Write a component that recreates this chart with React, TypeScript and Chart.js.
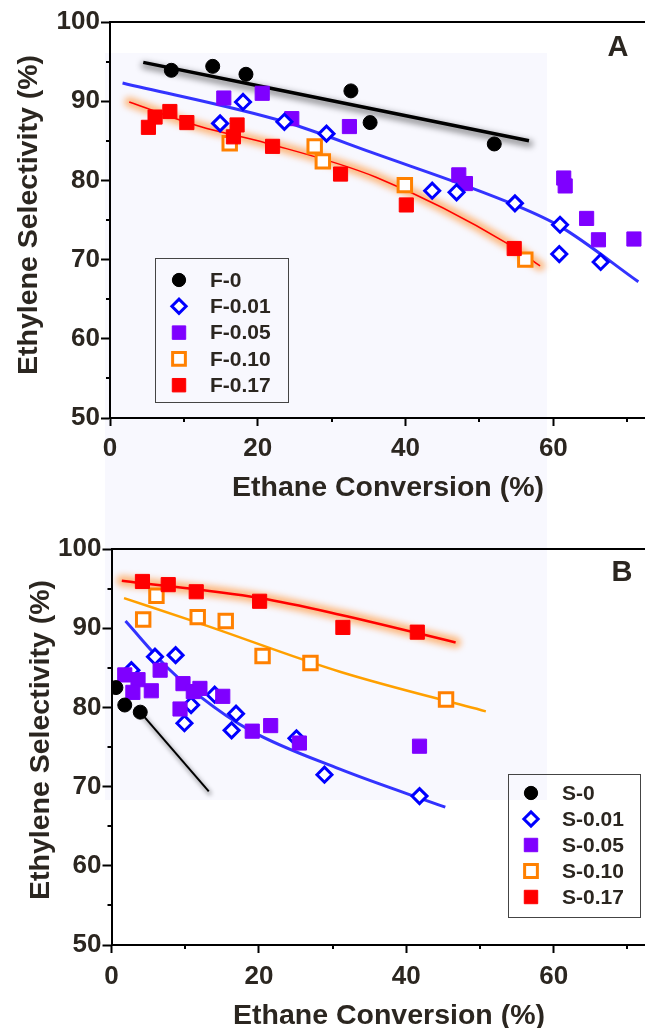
import React, { useEffect, useRef } from 'react';
import { Chart, registerables } from 'chart.js';
import { drawPoint } from 'chart.js/helpers';

Chart.register(...registerables);

// ---------------- Panel A data (F series) ----------------
const A_F0_X = [8.3, 13.9, 18.4, 32.6, 35.2, 52.0];
const A_F0_Y = [93.9, 94.4, 93.4, 91.3, 87.3, 84.6];
const A_F001_X = [14.9, 18.0, 23.6, 29.3, 43.6, 46.9, 54.8, 60.9, 60.8, 66.4];
const A_F001_Y = [87.2, 89.9, 87.4, 85.9, 78.7, 78.5, 77.1, 74.4, 70.7, 69.7];
const A_F005_X = [15.4, 20.6, 24.6, 32.4, 47.2, 48.1, 61.4, 61.6, 64.5, 66.1, 70.9];
const A_F005_Y = [90.4, 91.0, 87.8, 86.8, 80.7, 79.6, 80.3, 79.3, 75.2, 72.5, 72.6];
const A_F010_X = [16.2, 27.7, 28.8, 39.9, 56.2];
const A_F010_Y = [84.7, 84.3, 82.4, 79.4, 70.0];
const A_F017_X = [5.2, 6.1, 8.1, 10.4, 17.2, 16.7, 22.0, 31.2, 40.1, 54.7];
const A_F017_Y = [86.7, 88.0, 88.7, 87.3, 87.0, 85.5, 84.3, 80.8, 76.9, 71.4];

// fitted trend lines, panel A
const A_FIT0_X = [4.5, 56.7];
const A_FIT0_Y = [94.9, 85.0];
const A_FIT001_X = [1.7, 23.6, 35.2, 54.8, 60.9, 71.5];
const A_FIT001_Y = [92.3, 87.4, 83.6, 76.9, 74.2, 67.2];
const A_FIT017_X = [2.6, 12.2, 21.2, 36.0, 54.2, 58.2];
const A_FIT017_Y = [89.9, 86.8, 84.7, 80.4, 71.8, 69.2];

// ---------------- Panel B data (S series) ----------------
const B_S0_X = [0.6, 1.8, 3.9];
const B_S0_Y = [82.5, 80.3, 79.4];
const B_S001_X = [2.7, 5.9, 8.7, 10.8, 9.9, 14.0, 16.9, 16.3, 25.1, 28.9, 41.8];
const B_S001_Y = [84.7, 86.4, 86.6, 80.3, 78.0, 81.6, 79.2, 77.1, 76.1, 71.5, 68.8];
const B_S005_X = [1.8, 3.6, 2.9, 5.4, 6.6, 9.7, 11.1, 12.0, 9.3, 15.1, 19.1, 21.6, 25.5, 41.8];
const B_S005_Y = [84.1, 83.5, 81.9, 82.1, 84.7, 83.0, 82.0, 82.4, 79.8, 81.4, 77.0, 77.7, 75.5, 75.1];
const B_S010_X = [6.1, 4.3, 11.7, 15.5, 20.5, 27.0, 45.4];
const B_S010_Y = [94.1, 91.1, 91.4, 90.9, 86.5, 85.6, 81.0];
const B_S017_X = [4.2, 7.7, 11.5, 20.1, 31.4, 41.5];
const B_S017_Y = [95.9, 95.5, 94.6, 93.4, 90.1, 89.5];

const B_FIT0_X = [3.9, 13.2];
const B_FIT0_Y = [79.4, 69.4];
const B_FIT001_X = [1.9, 7.5, 12.0, 18.8, 31.0, 45.3];
const B_FIT001_Y = [90.9, 85.1, 81.4, 77.1, 72.2, 67.4];
const B_FIT010_X = [1.7, 11.7, 31.0, 50.8];
const B_FIT010_Y = [93.8, 90.7, 84.5, 79.5];
const B_FIT017_X = [1.4, 20.1, 31.0, 46.7];
const B_FIT017_Y = [96.0, 93.8, 91.7, 88.2];

// ---------------- axes ----------------
const X_MIN = 0;
const X_MAX = 72.4;
const X_STEP = 10;
const X_LABELED = [0, 20, 40, 60];
const X_MINOR = [10, 30, 50, 70];
const Y_MIN = 50;
const Y_MAX = 100;
const Y_STEP = 5;
const Y_LABELED = [50, 60, 70, 80, 90, 100];
const Y_MINOR = [55, 65, 75, 85, 95];

const X_TITLE = 'Ethane Conversion (%)';
const Y_TITLE = 'Ethylene Selectivity (%)';
const A_LABELS = ['F-0', 'F-0.01', 'F-0.05', 'F-0.10', 'F-0.17'];
const B_LABELS = ['S-0', 'S-0.01', 'S-0.05', 'S-0.10', 'S-0.17'];

const TEXT = '#2b2620';
const FONT = '"Liberation Sans", Arial, Helvetica, sans-serif';
const TITLE_SIZE = 28.5;

type Marker = { pointStyle: string; radius: number; bg: string; border: string; bw: number };
const M0: Marker = { pointStyle: 'circle', radius: 7, bg: '#000000', border: '#000000', bw: 1 };
const M001: Marker = { pointStyle: 'rectRot', radius: 7.5, bg: '#ffffff', border: '#0000ff', bw: 3 };
const M005: Marker = { pointStyle: 'rect', radius: 10, bg: '#7f00ff', border: '#7f00ff', bw: 1 };
const M010: Marker = { pointStyle: 'rect', radius: 9.5, bg: '#ffffff', border: '#ff8000', bw: 3 };
const M017: Marker = { pointStyle: 'rect', radius: 10, bg: '#ff0000', border: '#ff0000', bw: 1 };

const pts = (xs: number[], ys: number[]) => xs.map((x, i) => ({ x, y: ys[i] }));

function scatterDs(label: string, xs: number[], ys: number[], m: Marker, order: number) {
  return {
    type: 'scatter',
    label,
    data: pts(xs, ys),
    showLine: false,
    pointStyle: m.pointStyle,
    pointRadius: m.radius,
    pointHoverRadius: m.radius,
    pointBackgroundColor: m.bg,
    pointBorderColor: m.border,
    pointBorderWidth: m.bw,
    backgroundColor: m.bg,
    borderColor: m.border,
    order,
    marker: m,
  };
}

function fitDs(xs: number[], ys: number[], color: string, width: number, halo?: any) {
  return {
    type: 'scatter',
    label: '',
    data: pts(xs, ys),
    showLine: true,
    borderColor: color,
    backgroundColor: color,
    borderWidth: width,
    pointRadius: 0,
    pointHoverRadius: 0,
    cubicInterpolationMode: 'monotone',
    fill: false,
    order: 20,
    halo,
  };
}

const decorPlugin = {
  id: 'decor',
  beforeDatasetDraw(chart: any, args: any) {
    const ds = chart.data.datasets[args.index];
    const halo = ds.halo;
    const line = args.meta.dataset;
    if (!halo || !line) return;
    const a = chart.chartArea;
    if (line.updateControlPoints) line.updateControlPoints(a, 'x');
    const ctx = chart.ctx;
    ctx.save();
    ctx.beginPath();
    ctx.rect(a.left, a.top, a.right - a.left, a.bottom - a.top);
    ctx.clip();
    ctx.translate(halo.dx || 0, halo.dy || 0);
    ctx.filter = `blur(${halo.blur}px)`;
    ctx.strokeStyle = halo.color;
    ctx.lineWidth = halo.width;
    ctx.lineCap = 'round';
    ctx.lineJoin = 'round';
    ctx.beginPath();
    line.path(ctx);
    ctx.stroke();
    ctx.restore();
  },
  afterDraw(chart: any, _args: any, opts: any) {
    const ctx = chart.ctx;
    const xs = chart.scales.x;
    const ys = chart.scales.y;
    ctx.save();
    // minor ticks
    ctx.strokeStyle = '#000';
    ctx.lineWidth = 2;
    ctx.beginPath();
    X_MINOR.forEach((v) => {
      const px = Math.round(xs.getPixelForValue(v));
      ctx.moveTo(px, xs.top);
      ctx.lineTo(px, xs.top + 4);
    });
    Y_MINOR.forEach((v) => {
      const py = Math.round(ys.getPixelForValue(v));
      ctx.moveTo(ys.right - 4, py);
      ctx.lineTo(ys.right, py);
    });
    ctx.stroke();

    // axis titles
    const t = opts.titles;
    if (t) {
      ctx.fillStyle = TEXT;
      ctx.font = `bold ${TITLE_SIZE}px ${FONT}`;
      ctx.textAlign = 'center';
      ctx.textBaseline = 'middle';
      ctx.fillText(X_TITLE, t.xx, t.xy);
      ctx.save();
      ctx.translate(t.yx, t.yy);
      ctx.rotate(-Math.PI / 2);
      ctx.fillText(Y_TITLE, 0, 0);
      ctx.restore();
    }

    // legend
    const lg = opts.legend;
    if (lg) {
      ctx.strokeStyle = '#444';
      ctx.lineWidth = 1;
      ctx.strokeRect(lg.x + 0.5, lg.y + 0.5, lg.w, lg.h);
      const items = chart.data.datasets.filter((d: any) => d.marker);
      items.forEach((d: any, i: number) => {
        const y = lg.row0 + i * lg.gap;
        const m: Marker = d.marker;
        ctx.fillStyle = m.bg;
        ctx.strokeStyle = m.border;
        ctx.lineWidth = m.bw;
        drawPoint(ctx, { pointStyle: m.pointStyle, radius: m.radius * lg.scale, rotation: 0, borderWidth: m.bw } as any, lg.markerX, y);
        ctx.fillStyle = TEXT;
        ctx.font = `bold ${lg.fontSize}px ${FONT}`;
        ctx.textAlign = 'left';
        ctx.textBaseline = 'middle';
        ctx.fillText(d.label, lg.textX, y + 1);
      });
    }
    // panel label
    const pl = opts.panel;
    if (pl) {
      ctx.fillStyle = TEXT;
      ctx.font = `bold ${pl.size}px ${FONT}`;
      ctx.textAlign = 'center';
      ctx.textBaseline = 'middle';
      ctx.fillText(pl.text, pl.x, pl.y);
    }
    ctx.restore();
  },
};

type PanelCfg = {
  canvasTop: number;
  canvasHeight: number;
  plotTop: number;
  plotBottom: number;
  plotLeft: number;
  xTickPad: number;
  titles: any;
  datasets: any[];
  legend: any;
  panel: any;
};

const tickFont = { family: FONT, size: 26, weight: 'bold' as const };

function buildOptions(p: PanelCfg) {
  return {
    responsive: false,
    animation: false,
    events: [],
    layout: { autoPadding: false, padding: { top: p.plotTop, left: 0, right: 0, bottom: 0 } },
    plugins: {
      legend: { display: false },
      tooltip: { enabled: false },
      decor: { legend: p.legend, panel: p.panel, titles: p.titles },
    },
    scales: {
      x: {
        type: 'linear',
        position: 'bottom',
        min: X_MIN,
        max: X_MAX,
        afterFit: (s: any) => {
          s.height = p.canvasHeight - p.plotBottom;
          s.paddingLeft = 0;
          s.paddingRight = 0;
        },
        ticks: {
          stepSize: X_STEP,
          includeBounds: false,
          autoSkip: false,
          maxRotation: 0,
          padding: p.xTickPad,
          color: TEXT,
          font: tickFont,
          callback: (v: number) => (X_LABELED.includes(v) ? String(v) : ''),
        },
        grid: {
          display: true,
          drawOnChartArea: false,
          drawTicks: true,
          tickLength: 8,
          tickWidth: 2,
          tickColor: (c: any) => (c.tick && X_LABELED.includes(c.tick.value) ? '#000' : 'rgba(0,0,0,0)'),
        },
        border: { display: true, color: '#000', width: 2 },
        title: { display: false },
      },
      x2: {
        type: 'linear',
        position: 'top',
        min: X_MIN,
        max: X_MAX,
        afterFit: (s: any) => {
          s.height = 0;
          s.paddingLeft = 0;
          s.paddingRight = 0;
        },
        ticks: { display: false },
        grid: { display: false, drawTicks: false },
        border: { display: true, color: '#000', width: 2 },
      },
      y: {
        type: 'linear',
        position: 'left',
        min: Y_MIN,
        max: Y_MAX,
        afterFit: (s: any) => {
          s.width = p.plotLeft;
        },
        ticks: {
          stepSize: Y_STEP,
          includeBounds: false,
          autoSkip: false,
          padding: 1,
          color: TEXT,
          font: tickFont,
          callback: (v: number) => (Y_LABELED.includes(v) ? String(v) : ''),
        },
        grid: {
          display: true,
          drawOnChartArea: false,
          drawTicks: true,
          tickLength: 9,
          tickWidth: 2,
          tickColor: (c: any) => (c.tick && Y_LABELED.includes(c.tick.value) ? '#000' : 'rgba(0,0,0,0)'),
        },
        border: { display: true, color: '#000', width: 2 },
        title: { display: false },
      },
    },
  };
}

const PANEL_A: PanelCfg = {
  canvasTop: 0,
  canvasHeight: 510,
  plotTop: 22,
  plotBottom: 418,
  plotLeft: 110,
  xTickPad: 7.4,
  titles: { xx: 388, xy: 488, yx: 29, yy: 215 },
  datasets: [
    scatterDs(A_LABELS[0], A_F0_X, A_F0_Y, M0, 0),
    scatterDs(A_LABELS[1], A_F001_X, A_F001_Y, M001, 1),
    scatterDs(A_LABELS[2], A_F005_X, A_F005_Y, M005, 4),
    scatterDs(A_LABELS[3], A_F010_X, A_F010_Y, M010, 3),
    scatterDs(A_LABELS[4], A_F017_X, A_F017_Y, M017, 2),
    fitDs(A_FIT0_X, A_FIT0_Y, '#000000', 3.5, { color: 'rgba(0,0,0,0.45)', width: 6, blur: 3, dx: 1, dy: 3 }),
    fitDs(A_FIT001_X, A_FIT001_Y, '#3333ff', 3),
    fitDs(A_FIT017_X, A_FIT017_Y, '#ff0000', 1.5, { color: 'rgba(255,150,60,0.65)', width: 10, blur: 3 }),
  ],
  legend: { x: 155, y: 258, w: 133, h: 144, row0: 280, gap: 26.3, markerX: 179, textX: 210, fontSize: 21, scale: 0.95 },
  panel: { text: 'A', x: 618, y: 48, size: 29 },
};

const PANEL_B: PanelCfg = {
  canvasTop: 510,
  canvasHeight: 530,
  plotTop: 39,
  plotBottom: 435,
  plotLeft: 111.5,
  xTickPad: 8.4,
  titles: { xx: 389, xy: 506, yx: 41, yy: 230 },
  datasets: [
    scatterDs(B_LABELS[0], B_S0_X, B_S0_Y, M0, 0),
    scatterDs(B_LABELS[1], B_S001_X, B_S001_Y, M001, 2),
    scatterDs(B_LABELS[2], B_S005_X, B_S005_Y, M005, 1),
    scatterDs(B_LABELS[3], B_S010_X, B_S010_Y, M010, 4),
    scatterDs(B_LABELS[4], B_S017_X, B_S017_Y, M017, 3),
    fitDs(B_FIT0_X, B_FIT0_Y, '#000000', 2, { color: 'rgba(0,0,0,0.3)', width: 4, blur: 2, dx: 1, dy: 2 }),
    fitDs(B_FIT001_X, B_FIT001_Y, '#3333ff', 3),
    fitDs(B_FIT010_X, B_FIT010_Y, '#ffa000', 2.5),
    fitDs(B_FIT017_X, B_FIT017_Y, '#ff0000', 2.5, { color: 'rgba(255,150,60,0.65)', width: 11, blur: 3 }),
  ],
  legend: { x: 508, y: 264, w: 132, h: 143, row0: 283, gap: 26, markerX: 531, textX: 562, fontSize: 21, scale: 0.95 },
  panel: { text: 'B', x: 622, y: 63, size: 29 },
};

function PanelChart({ p }: { p: PanelCfg }) {
  const ref = useRef<HTMLCanvasElement>(null);
  useEffect(() => {
    const chart = new Chart(ref.current as HTMLCanvasElement, {
      type: 'scatter',
      data: { datasets: p.datasets as any },
      options: buildOptions(p) as any,
      plugins: [decorPlugin as any],
    });
    return () => chart.destroy();
  }, []);
  return (
    <canvas
      ref={ref}
      width={645}
      height={p.canvasHeight}
      style={{ position: 'absolute', left: 0, top: p.canvasTop, width: 645, height: p.canvasHeight, display: 'block' }}
    />
  );
}

export default function App() {
  return (
    <div
      style={{
        position: 'absolute',
        left: 0,
        top: 0,
        width: 645,
        height: 1028,
        overflow: 'hidden',
        background: '#ffffff',
      }}
    >
      <div style={{ position: 'absolute', left: 105, top: 53, width: 442, height: 747, background: '#f8f8fe' }} />
      <PanelChart p={PANEL_A} />
      <PanelChart p={PANEL_B} />
    </div>
  );
}
